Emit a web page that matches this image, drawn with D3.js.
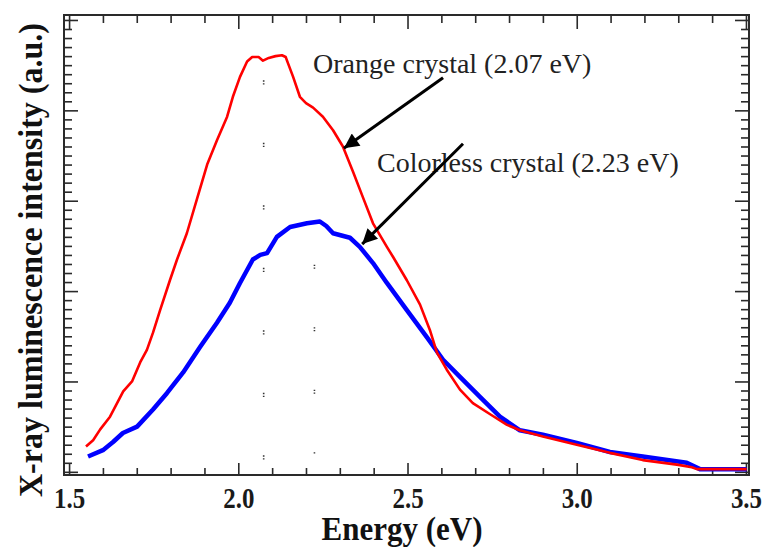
<!DOCTYPE html>
<html>
<head>
<meta charset="utf-8">
<script src="https://cdn.jsdelivr.net/npm/d3@7"></script>
<style>
  body { margin: 0; background: #fff; }
  svg { display: block; }
  .tick text { font-family: "Liberation Serif", "Times New Roman", serif; font-weight: bold; }
</style>
</head>
<body>
<div id="chart"></div>
<script>
// X-ray luminescence spectra of the two crystals

// orange crystal (red trace)
var orangeEnergy = [1.550, 1.571, 1.592, 1.621, 1.660, 1.686, 1.710, 1.730, 1.748, 1.769,
    1.798, 1.819, 1.848, 1.878, 1.908, 1.937, 1.967, 1.984, 2.005, 2.026,
    2.041, 2.060, 2.073, 2.090, 2.110, 2.129, 2.140, 2.147, 2.162, 2.182,
    2.200, 2.221, 2.250, 2.280, 2.309, 2.339, 2.368, 2.398, 2.439, 2.457,
    2.498, 2.537, 2.566, 2.587, 2.616, 2.655, 2.693, 2.743, 2.794, 2.832,
    2.900, 3.000, 3.098, 3.195, 3.296, 3.340, 3.355, 3.502];
var orangeIntensity = [0.28, 0.35, 0.47, 0.61, 0.89, 1.00, 1.21, 1.35, 1.54, 1.79,
    2.12, 2.35, 2.64, 3.02, 3.40, 3.67, 3.93, 4.15, 4.37, 4.54,
    4.59, 4.59, 4.55, 4.58, 4.60, 4.61, 4.59, 4.52, 4.37, 4.15,
    4.08, 4.03, 3.93, 3.78, 3.60, 3.32, 3.04, 2.75, 2.49, 2.38,
    2.12, 1.85, 1.57, 1.32, 1.13, 0.91, 0.76, 0.64, 0.52, 0.46,
    0.39, 0.30, 0.21, 0.13, 0.08, 0.05, 0.03, 0.03];

// colorless crystal (blue trace)
var colorlessEnergy = [1.556, 1.600, 1.630, 1.659, 1.701, 1.748, 1.789, 1.837, 1.887, 1.937,
    1.975, 2.005, 2.043, 2.065, 2.085, 2.114, 2.153, 2.203, 2.241, 2.260,
    2.280, 2.330, 2.359, 2.398, 2.439, 2.498, 2.557, 2.605, 2.655, 2.714,
    2.773, 2.832, 2.900, 3.000, 3.098, 3.195, 3.325, 3.364, 3.502];
var colorlessIntensity = [0.17, 0.24, 0.33, 0.43, 0.50, 0.69, 0.87, 1.10, 1.38, 1.65,
    1.87, 2.09, 2.35, 2.40, 2.42, 2.60, 2.71, 2.75, 2.77, 2.72,
    2.64, 2.59, 2.49, 2.31, 2.09, 1.79, 1.49, 1.24, 1.05, 0.83,
    0.61, 0.46, 0.41, 0.32, 0.22, 0.17, 0.10, 0.03, 0.03];

// dotted peak markers: energy, top and bottom of the dotted column
var markerEnergy = [2.075, 2.225];
var markerTop = [4.31, 2.27];
var markerBottom = [0.17, 0.22];

// annotations: label position, arrow tail, arrow tip (data units)
var labelText = ["Orange crystal (2.07 eV)", "Colorless crystal (2.23 eV)"];
var labelAt = [[2.221, 4.41], [2.410, 3.32]];
var arrowFrom = [[2.605, 4.36], [2.664, 3.63]];
var arrowTo = [[2.312, 3.58], [2.366, 2.52]];

var xMajor = [1.5, 2.0, 2.5, 3.0, 3.5];
var yMajor = [0, 1, 2, 3, 4, 5];

var WIDTH = 765;
var HEIGHT = 547;
var LEFT = 64, RIGHT = 749, TOP = 15, BOTTOM = 475;
var FRAME = "#2a2a2a";

var x = d3.scaleLinear().domain([1.485, 3.509]).range([LEFT, RIGHT]);
var y = d3.scaleLinear().domain([-0.035, 5.055]).range([BOTTOM, TOP]);

var svg = d3.select("#chart").append("svg")
    .attr("width", WIDTH)
    .attr("height", HEIGHT);

svg.append("defs").append("marker")
    .attr("id", "head")
    .attr("viewBox", "0 0 10 10")
    .attr("refX", 10)
    .attr("refY", 5)
    .attr("markerUnits", "userSpaceOnUse")
    .attr("markerWidth", 19)
    .attr("markerHeight", 15)
    .attr("orient", "auto")
  .append("path")
    .attr("d", "M0,0L10,5L0,10Z")
    .attr("fill", "#000");

var xMinor = d3.range(15, 36).map(function(d) { return d / 10; })
    .filter(function(d) { return xMajor.indexOf(d) < 0; });
var yMinor = d3.range(0, 51).map(function(d) { return d / 10; })
    .filter(function(d) { return yMajor.indexOf(d) < 0; });

function addAxis(axis, tr) {
    var g = svg.append("g").attr("transform", tr).call(axis);
    g.select(".domain").remove();
    g.selectAll(".tick line").attr("stroke", FRAME).attr("stroke-width", 1.6);
    return g;
}

// minor ticks
addAxis(d3.axisBottom(x).tickValues(xMinor).tickSize(-7).tickFormat(""), "translate(0," + BOTTOM + ")");
addAxis(d3.axisTop(x).tickValues(xMinor).tickSize(-8).tickFormat(""), "translate(0," + TOP + ")");
addAxis(d3.axisLeft(y).tickValues(yMinor).tickSize(-8).tickFormat(""), "translate(" + LEFT + ",0)");
addAxis(d3.axisRight(y).tickValues(yMinor).tickSize(-8).tickFormat(""), "translate(" + RIGHT + ",0)");

// major ticks
var bottomAxis = addAxis(d3.axisBottom(x).tickValues(xMajor).tickSize(-12).tickPadding(12)
    .tickFormat(d3.format(".1f")), "translate(0," + BOTTOM + ")");
bottomAxis.selectAll(".tick text")
    .attr("font-size", 29)
    .attr("fill", "#1a1a1a")
    .attr("transform", "scale(0.86,1)");
addAxis(d3.axisTop(x).tickValues(xMajor).tickSize(-14).tickFormat(""), "translate(0," + TOP + ")");
addAxis(d3.axisLeft(y).tickValues(yMajor).tickSize(-14).tickFormat(""), "translate(" + LEFT + ",0)");
addAxis(d3.axisRight(y).tickValues(yMajor).tickSize(-14).tickFormat(""), "translate(" + RIGHT + ",0)");

// frame
svg.append("rect")
    .attr("x", LEFT)
    .attr("y", TOP)
    .attr("width", RIGHT - LEFT)
    .attr("height", BOTTOM - TOP)
    .attr("fill", "none")
    .attr("stroke", FRAME)
    .attr("stroke-width", 2);

// dotted markers
svg.selectAll("line.marker")
    .data(markerEnergy)
    .enter()
    .append("line")
    .attr("class", "marker")
    .attr("x1", function(d) { return x(d); })
    .attr("x2", function(d) { return x(d); })
    .attr("y1", function(d, i) { return y(markerTop[i]) - 2; })
    .attr("y2", function(d, i) { return y(markerBottom[i]) + 3; })
    .attr("stroke", "#333")
    .attr("stroke-width", 1.6)
    .attr("stroke-dasharray", "1.3 1.5 1.3 58.4");

var line = d3.line()
    .x(function(d) { return x(d[0]); })
    .y(function(d) { return y(d[1]); });

var colorless = colorlessEnergy.map(function(e, i) { return [e, colorlessIntensity[i]]; });
var orange = orangeEnergy.map(function(e, i) { return [e, orangeIntensity[i]]; });

svg.append("path")
    .datum(colorless)
    .attr("d", line)
    .attr("fill", "none")
    .attr("stroke", "#0000ff")
    .attr("stroke-width", 4.5)
    .attr("stroke-linejoin", "round");

svg.append("path")
    .datum(orange)
    .attr("d", line)
    .attr("fill", "none")
    .attr("stroke", "#ff0000")
    .attr("stroke-width", 2.6)
    .attr("stroke-linejoin", "round");

// annotations
for (var i = 0; i < labelText.length; i++) {
    svg.append("text")
        .attr("x", x(labelAt[i][0]))
        .attr("y", y(labelAt[i][1]))
        .attr("font-family", "'Liberation Serif', 'Times New Roman', serif")
        .attr("font-size", 28)
        .attr("fill", "#222")
        .text(labelText[i]);

    svg.append("line")
        .attr("x1", x(arrowFrom[i][0]))
        .attr("y1", y(arrowFrom[i][1]))
        .attr("x2", x(arrowTo[i][0]))
        .attr("y2", y(arrowTo[i][1]))
        .attr("stroke", "#000")
        .attr("stroke-width", 3)
        .attr("marker-end", "url(#head)");
}

// axis titles
svg.append("text")
    .attr("x", 402)
    .attr("y", 540)
    .attr("text-anchor", "middle")
    .attr("font-family", "'Liberation Serif', 'Times New Roman', serif")
    .attr("font-weight", "bold")
    .attr("font-size", 33)
    .attr("textLength", 161)
    .attr("lengthAdjust", "spacingAndGlyphs")
    .attr("fill", "#111")
    .text("Energy (eV)");

svg.append("text")
    .attr("transform", "translate(42,260) rotate(-90)")
    .attr("text-anchor", "middle")
    .attr("font-family", "'Liberation Serif', 'Times New Roman', serif")
    .attr("font-weight", "bold")
    .attr("font-size", 33)
    .attr("textLength", 474)
    .attr("lengthAdjust", "spacingAndGlyphs")
    .attr("fill", "#111")
    .text("X-ray luminescence intensity (a.u.)");
</script>
</body>
</html>
